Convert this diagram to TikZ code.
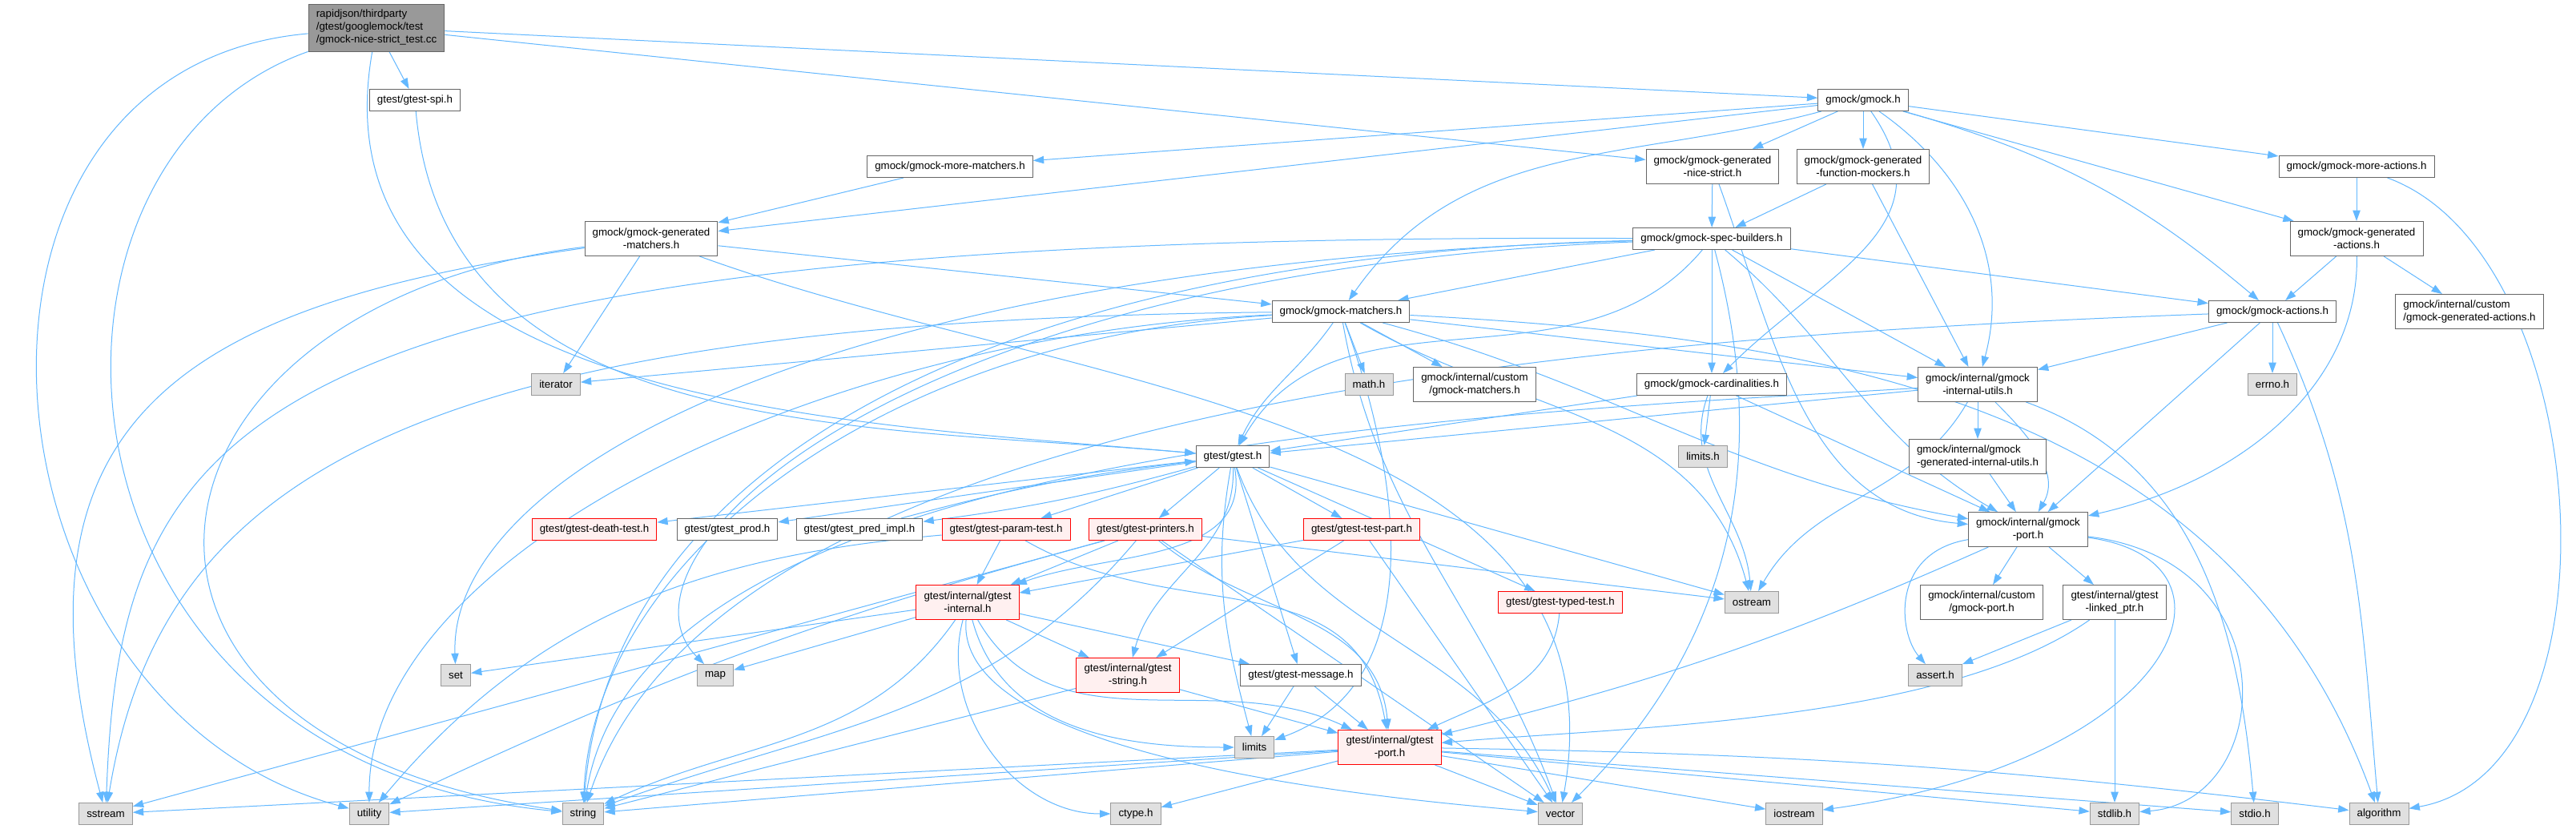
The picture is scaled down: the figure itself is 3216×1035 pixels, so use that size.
\documentclass[tikz,border=0pt]{standalone}
\usepackage{fontspec}
\setmainfont{Liberation Sans}
\usetikzlibrary{arrows.meta,backgrounds}
\definecolor{cedge}{HTML}{63B8FF}
\definecolor{cbox}{HTML}{666666}
\definecolor{csysb}{HTML}{999999}
\definecolor{csys}{HTML}{E0E0E0}
\definecolor{credf}{HTML}{FFF0F0}

\begin{document}
\begin{tikzpicture}[x=0.75pt, y=0.75pt, font=\fontsize{10}{12}\selectfont,
                    >={Triangle[length=10pt,width=7pt]},
                    hdr/.style={draw=cbox, fill=white, line width=0.75pt, inner xsep=7.2pt,
                                inner ysep=2pt, minimum height=20.25pt},
                    two/.style={minimum height=32.25pt, align=center},
                    sys/.style={hdr, draw=csysb, fill=csys},
                    trunc/.style={hdr, draw=red, fill=credf},
                    dep/.style={->, draw=cedge, line width=0.75pt},
                    every edge/.style={draw=cedge, line width=0.75pt}]
  \useasboundingbox (0,0) rectangle (3216,-1035);
  % the test file and the gmock headers
  \node[hdr, fill=csysb, minimum height=44.25pt, align=left] (root) at (470,-34.5)
    {rapidjson/thirdparty\\/gtest/googlemock/test\\/gmock-nice-strict\_test.cc};
  \node[hdr] (spi) at (518,-125) {gtest/gtest-spi.h};
  \node[hdr] (gmockh) at (2326,-125) {gmock/gmock.h};
  \node[hdr] (moremat) at (1186,-208) {gmock/gmock-more-matchers.h};
  \node[hdr,two] (nicestrict) at (2138,-208) {gmock/gmock-generated\\-nice-strict.h};
  \node[hdr,two] (funcmock) at (2326,-208) {gmock/gmock-generated\\-function-mockers.h};
  \node[hdr] (moreact) at (2942,-208) {gmock/gmock-more-actions.h};
  \node[hdr,two] (genmat) at (813,-298) {gmock/gmock-generated\\-matchers.h};
  \node[hdr] (spec) at (2137,-298) {gmock/gmock-spec-builders.h};
  \node[hdr,two] (genact) at (2942,-298) {gmock/gmock-generated\\-actions.h};
  \node[hdr,two,align=left] (cusgenact) at (3083,-389) {gmock/internal/custom\\/gmock-generated-actions.h};
  \node[hdr] (actions) at (2837,-389) {gmock/gmock-actions.h};
  \node[hdr] (matchers) at (1674,-389) {gmock/gmock-matchers.h};
  \node[sys] (iterator) at (694,-480) {iterator};
  \node[sys] (mathh) at (1709,-480) {math.h};
  \node[hdr,two] (cusmat) at (1841,-480) {gmock/internal/custom\\/gmock-matchers.h};
  \node[hdr] (card) at (2137,-480) {gmock/gmock-cardinalities.h};
  \node[hdr,two] (intutils) at (2469,-480) {gmock/internal/gmock\\-internal-utils.h};
  \node[sys] (errnoh) at (2837,-480) {errno.h};
  \node[sys] (limitsh) at (2126,-570) {limits.h};
  \node[hdr,two,align=left] (genint) at (2469,-570) {gmock/internal/gmock\\-generated-internal-utils.h};
  % gtest headers
  \node[hdr] (gtesth) at (1539,-570) {gtest/gtest.h};
  \node[trunc] (death) at (742,-661) {gtest/gtest-death-test.h};
  \node[hdr] (prod) at (908,-661) {gtest/gtest\_prod.h};
  \node[hdr] (pred) at (1073,-661) {gtest/gtest\_pred\_impl.h};
  \node[trunc] (param) at (1256,-661) {gtest/gtest-param-test.h};
  \node[trunc] (printers) at (1430,-661) {gtest/gtest-printers.h};
  \node[trunc] (testpart) at (1700,-661) {gtest/gtest-test-part.h};
  \node[hdr,two] (gmport) at (2532,-661) {gmock/internal/gmock\\-port.h};
  \node[hdr,two] (cusport) at (2474,-752) {gmock/internal/custom\\/gmock-port.h};
  \node[hdr,two] (linked) at (2640,-752) {gtest/internal/gtest\\-linked\_ptr.h};
  \node[trunc] (typed) at (1948,-752) {gtest/gtest-typed-test.h};
  \node[sys] (ostream) at (2187,-752) {ostream};
  \node[trunc,two] (internal) at (1208,-752) {gtest/internal/gtest\\-internal.h};
  \node[sys] (set) at (569,-843) {set};
  \node[sys] (map) at (893,-843) {map};
  \node[trunc,two] (gstring) at (1408,-843) {gtest/internal/gtest\\-string.h};
  \node[hdr] (message) at (1624,-843) {gtest/gtest-message.h};
  \node[sys] (asserth) at (2416,-843) {assert.h};
  \node[sys] (limits) at (1566,-933) {limits};
  \node[trunc,two] (gtport) at (1735,-933) {gtest/internal/gtest\\-port.h};
  % system headers, bottom row
  \node[sys] (sstream) at (132,-1016) {sstream};
  \node[sys] (utility) at (461,-1016) {utility};
  \node[sys] (string) at (728,-1016) {string};
  \node[sys] (ctypeh) at (1418,-1016) {ctype.h};
  \node[sys] (vector) at (1948,-1016) {vector};
  \node[sys] (iostream) at (2240,-1016) {iostream};
  \node[sys] (stdlibh) at (2640,-1016) {stdlib.h};
  \node[sys] (stdioh) at (2815,-1016) {stdio.h};
  \node[sys] (algorithm) at (2970,-1016) {algorithm};

  \begin{scope}[on background layer]
  \fill[white] (0,0) rectangle (3216,-1035);
  % includes of the test file
  \path[dep] (root) edge (spi) edge (gmockh) edge (nicestrict)
    edge[out=-100,in=175] (gtesth)
    edge[out=185,in=165,looseness=1.3] (utility);
  \draw[dep] (root) .. controls (0,-200) and (40,-950) .. (string);
  \path[dep] (spi) edge[out=-85,in=175] (gtesth);
  % gmock/gmock.h
  \path[dep] (gmockh) edge (moremat) edge (genmat) edge (nicestrict) edge (funcmock)
    edge (moreact) edge (genact)
    edge[bend left=12] (actions)
    edge[out=195,in=55] (matchers)
    edge[out=-35,in=75] (intutils)
    edge[out=-55,in=45,looseness=1.2] (card);
  \path[dep] (moremat) edge (genmat);
  \path[dep] (moreact) edge (genact) edge[out=-20,in=10,looseness=0.9] (algorithm);
  \path[dep] (nicestrict) edge (spec) edge[out=-70,in=175] (gmport);
  \path[dep] (funcmock) edge (spec) edge (intutils);
  \path[dep] (genact) edge (actions) edge (cusgenact);
  \draw[dep] (genact) .. controls (2945,-480) and (2800,-600) .. (gmport);
  % generated matchers
  \path[dep] (genmat) edge (iterator) edge (matchers)
    edge[out=188,in=105,looseness=1.4] (sstream)
    edge[out=-20,in=80] (vector);
  \draw[dep] (genmat) .. controls (150,-380) and (60,-920) .. (string);
  % spec builders
  \path[dep] (spec) edge (actions) edge (card) edge (matchers) edge (intutils)
    edge[out=-40,in=150] (gmport)
    edge[out=230,in=60] (gtesth)
    edge[out=-75,in=45] (vector);
  \draw[dep] (spec) .. controls (300,-290) and (150,-520) .. (sstream);
  \draw[dep] (spec) .. controls (1200,-320) and (760,-600) .. (string);
  \draw[dep] (spec) .. controls (1000,-330) and (560,-600) .. (set);
  \draw[dep] (spec) .. controls (1100,-340) and (750,-700) .. (map);
  % matchers
  \path[dep] (matchers) edge (mathh) edge (cusmat) edge (iterator) edge (intutils)
    edge[out=-15,in=170] (gmport)
    edge[out=235,in=65] (gtesth)
    edge[out=-3,in=110] (algorithm)
    edge[out=-30,in=105] (ostream)
    edge[out=-70,in=20] (limits)
    edge[out=-80,in=110] (vector);
  \draw[dep] (matchers) .. controls (500,-400) and (200,-600) .. (sstream);
  \draw[dep] (matchers) .. controls (1100,-420) and (740,-700) .. (string);
  \draw[dep] (matchers) .. controls (1000,-420) and (460,-700) .. (utility);
  % cardinalities, internal utils, actions
  \path[dep] (card) edge (limitsh) edge (gtesth) edge (gmport) edge[out=-110,in=95] (ostream);
  \path[dep] (intutils) edge (genint) edge (gtesth)
    edge[out=-45,in=60] (gmport)
    edge[out=-120,in=60] (ostream)
    edge[out=-20,in=95] (stdioh);
  \draw[dep] (intutils) .. controls (1800,-520) and (800,-560) .. (string);
  \path[dep] (actions) edge (errnoh) edge (intutils) edge (gmport)
    edge[out=-65,in=95] (algorithm);
  \draw[dep] (actions) .. controls (2000,-420) and (900,-500) .. (string);
  \path[dep] (genint) edge (gmport);
  % gmock port
  \path[dep] (gmport) edge (cusport) edge (linked) edge[bend left=5] (gtport);
  \draw[dep] (gmport) .. controls (2360,-690) and (2370,-790) .. (asserth);
  \draw[dep] (gmport) .. controls (2820,-700) and (2720,-950) .. (iostream);
  \draw[dep] (gmport) .. controls (2860,-700) and (2840,-1000) .. (stdlibh);
  \path[dep] (linked) edge (asserth) edge (stdlibh) edge[out=-145,in=5,looseness=0.7] (gtport);
  % gtest.h
  \path[dep] (gtesth) edge (death) edge (prod) edge[bend left=4] (pred) edge (param) edge (printers)
    edge (testpart) edge (typed) edge (message) edge (ostream)
    edge[out=-80,in=20] (internal)
    edge[out=-88,in=75] (gstring)
    edge[out=-100,in=105] (limits)
    edge[out=-70,in=115] (vector);
  \path[dep] (pred) edge[bend left=4] (gtesth);
  \path[dep] (param) edge (internal) edge[out=185,in=50] (utility) edge[out=-30,in=100,looseness=1.1] (gtport);
  \path[dep] (printers) edge (internal) edge (ostream) edge (sstream) edge (vector)
    edge[bend right=5] (utility)
    edge[out=-130,in=20] (string)
    edge[out=-40,in=95] (gtport);
  \path[dep] (testpart) edge (internal) edge (gstring) edge (vector);
  \path[dep] (typed) edge[out=-95,in=25] (gtport);
  \path[dep] (message) edge (gtport) edge (limits);
  \path[dep] (gstring) edge (gtport) edge (string);
  % gtest internal and port
  \path[dep] (internal) edge (set) edge (map) edge (gstring) edge (message)
    edge[out=-60,in=155] (gtport)
    edge[out=-75,in=180] (limits)
    edge[out=-105,in=180] (ctypeh)
    edge[out=-95,in=175,looseness=0.6] (vector)
    edge[out=-125,in=25] (string);
  \path[dep] (gtport) edge (sstream) edge (utility) edge (string) edge (ctypeh) edge (vector)
    edge (iostream) edge (stdlibh) edge (stdioh) edge[bend left=3] (algorithm);
  \end{scope}
\end{tikzpicture}
\end{document}
